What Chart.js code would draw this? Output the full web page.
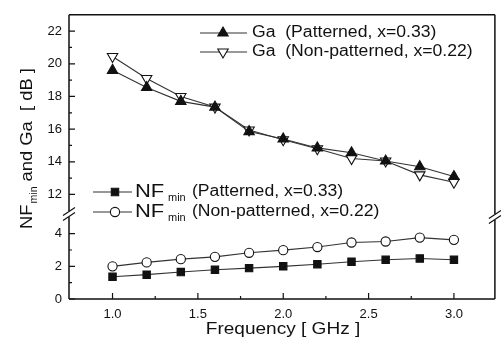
<!DOCTYPE html>
<html><head><meta charset="utf-8">
<script src="https://cdn.jsdelivr.net/npm/chart.js@4/dist/chart.umd.min.js"></script>
<style>html,body{margin:0;padding:0;background:#fff;overflow:hidden}#wrap{width:502px;height:351px;position:relative}</style>
</head><body><div id="wrap"><canvas id="c" width="502" height="351"></canvas></div>
<script>
// ---- data ----
const freqs = [1.0, 1.2, 1.4, 1.6, 1.8, 2.0, 2.2, 2.4, 2.6, 2.8, 3.0];
const gaPatterned    = [19.6, 18.55, 17.7, 17.35, 15.85, 15.4, 14.85, 14.55, 14.05, 13.7, 13.1];
const gaNonPatterned = [20.45, 19.1, 18.0, 17.35, 15.95, 15.35, 14.8, 14.2, 14.05, 13.2, 12.75];
const nfPatterned    = [1.36, 1.49, 1.65, 1.79, 1.89, 2.0, 2.13, 2.28, 2.4, 2.48, 2.4];
const nfNonPatterned = [2.0, 2.24, 2.44, 2.58, 2.83, 2.99, 3.18, 3.46, 3.52, 3.76, 3.62];
const xTicks = [1.0, 1.5, 2.0, 2.5, 3.0];
const xMinorTicks = [1.25, 1.75, 2.25, 2.75];
const yUpperTicks = [12, 14, 16, 18, 20, 22];
const yUpperMinor = [13, 15, 17, 19, 21];
const yLowerTicks = [0, 2, 4];
const yLowerMinor = [1, 3];
const legendGa = ['Ga  (Patterned, x=0.33)', 'Ga  (Non-patterned, x=0.22)'];
const legendNf = ['(Patterned, x=0.33)', '(Non-patterned, x=0.22)'];
const xTitle = 'Frequency [ GHz ]';
const yTitle = ['NF', 'min', ' and Ga  [ dB ]'];

const FONT = '"Liberation Sans", Arial, sans-serif';
const INK = '#111';
const LINE = '#333';

const pts = arr => freqs.map((f, i) => ({x: f, y: arr[i]}));

const styles = {
  gaP:  {pointStyle: 'triangle', radius: 6, rotation: 0,   fill: INK},
  gaN:  {pointStyle: 'triangle', radius: 6, rotation: 180, fill: '#fff'},
  nfP:  {pointStyle: 'rect',     radius: 5.2, rotation: 0, fill: INK},
  nfN:  {pointStyle: 'circle',   radius: 4.6, rotation: 0, fill: '#fff'}
};

function ds(label, arr, axis, st) {
  return {
    label, data: pts(arr), yAxisID: axis,
    borderColor: LINE, borderWidth: 1.1, tension: 0,
    pointStyle: st.pointStyle, pointRadius: st.radius, pointRotation: st.rotation,
    pointBackgroundColor: st.fill, pointBorderColor: INK, pointBorderWidth: 1.1,
    clip: false
  };
}

function hText(ctx, txt, x, y, font, sx) {
  ctx.save();
  ctx.font = font;
  ctx.translate(x, y);
  ctx.scale(sx, 1);
  ctx.fillText(txt, 0, 0);
  const w = ctx.measureText(txt).width * sx;
  ctx.restore();
  return w;
}

function marker(ctx, st, x, y) {
  ctx.save();
  ctx.fillStyle = st.fill;
  ctx.strokeStyle = INK;
  ctx.lineWidth = 1.1;
  Chart.helpers.drawPoint(ctx, {pointStyle: st.pointStyle, radius: st.radius, rotation: st.rotation, borderWidth: 1.1}, x, y);
  ctx.restore();
}

const decor = {
  id: 'decor',
  afterDraw(chart) {
    const ctx = chart.ctx;
    const {left, right, top, bottom} = chart.chartArea;
    const xs = chart.scales.x, yU = chart.scales.yU, yL = chart.scales.yL;
    const yb = yL.top;
    const gap = 3;
    ctx.save();
    ctx.strokeStyle = INK;
    ctx.lineWidth = 1.5;
    ctx.beginPath();
    ctx.moveTo(left, top); ctx.lineTo(right, top);
    ctx.moveTo(left, bottom); ctx.lineTo(right, bottom);
    ctx.moveTo(left, top); ctx.lineTo(left, yb - gap);
    ctx.moveTo(left, yb + gap); ctx.lineTo(left, bottom);
    ctx.moveTo(right, top); ctx.lineTo(right, yb - gap + 3);
    ctx.moveTo(right, yb + gap + 3); ctx.lineTo(right, bottom);
    ctx.stroke();
    // break marks
    ctx.lineWidth = 1.2;
    ctx.beginPath();
    [[left, yb], [right, yb + 3]].forEach(([bx, by]) => {
      [-2.5, 2.5].forEach(d => {
        ctx.moveTo(bx - 6, by + d + 4);
        ctx.lineTo(bx + 6, by + d - 4);
      });
    });
    ctx.stroke();
    // inward ticks
    ctx.lineWidth = 1.2;
    ctx.beginPath();
    xTicks.forEach(v => { const px = xs.getPixelForValue(v); ctx.moveTo(px, bottom); ctx.lineTo(px, bottom - 6); });
    xMinorTicks.forEach(v => { const px = xs.getPixelForValue(v); ctx.moveTo(px, bottom); ctx.lineTo(px, bottom - 3); });
    yUpperTicks.forEach(v => { const py = yU.getPixelForValue(v); ctx.moveTo(left, py); ctx.lineTo(left + 6, py); });
    yUpperMinor.forEach(v => { const py = yU.getPixelForValue(v); ctx.moveTo(left, py); ctx.lineTo(left + 3, py); });
    yLowerTicks.forEach(v => { const py = yL.getPixelForValue(v); ctx.moveTo(left, py); ctx.lineTo(left + 6, py); });
    yLowerMinor.forEach(v => { const py = yL.getPixelForValue(v); ctx.moveTo(left, py); ctx.lineTo(left + 3, py); });
    ctx.stroke();

    // legends
    ctx.fillStyle = INK;
    ctx.textBaseline = 'middle';
    ctx.textAlign = 'left';
    const gaRows = [33, 52];
    [styles.gaP, styles.gaN].forEach((st, i) => {
      const y = gaRows[i];
      ctx.strokeStyle = LINE; ctx.lineWidth = 1.1;
      ctx.beginPath(); ctx.moveTo(200, y); ctx.lineTo(247, y); ctx.stroke();
      marker(ctx, st, 223, y);
      ctx.fillStyle = INK;
      hText(ctx, legendGa[i], 252, y, '16px ' + FONT, 1.1);
    });
    const nfRows = [192, 212];
    [styles.nfP, styles.nfN].forEach((st, i) => {
      const y = nfRows[i];
      ctx.strokeStyle = LINE; ctx.lineWidth = 1.1;
      ctx.beginPath(); ctx.moveTo(93, y); ctx.lineTo(132, y); ctx.stroke();
      marker(ctx, st, 115, y);
      ctx.fillStyle = INK;
      hText(ctx, 'NF', 135, y, '18px ' + FONT, 1.22);
      hText(ctx, 'min', 168, y + 6, '10px ' + FONT, 1.1);
      hText(ctx, legendNf[i], 192, y, '16px ' + FONT, 1.1);
    });

    // x title
    ctx.save();
    ctx.font = '17px ' + FONT;
    const xw = ctx.measureText(xTitle).width * 1.12;
    ctx.restore();
    hText(ctx, xTitle, 283 - xw / 2, 329, '17px ' + FONT, 1.12);

    // y title (rotated)
    ctx.save();
    ctx.translate(27, 149);
    ctx.rotate(-Math.PI / 2);
    ctx.font = '17px ' + FONT;
    const w1 = ctx.measureText(yTitle[0]).width * 1.08;
    const w3 = ctx.measureText(yTitle[2]).width * 1.08;
    ctx.font = '10px ' + FONT;
    const w2 = ctx.measureText(yTitle[1]).width * 1.05;
    let x0 = -(w1 + w2 + w3) / 2;
    hText(ctx, yTitle[0], x0, 0, '17px ' + FONT, 1.08);
    hText(ctx, yTitle[1], x0 + w1 + 1, 7, '10px ' + FONT, 1.05);
    hText(ctx, yTitle[2], x0 + w1 + w2 + 1, 0, '17px ' + FONT, 1.08);
    ctx.restore();
    ctx.restore();
  }
};

const tickFont = {family: FONT, size: 13};

new Chart(document.getElementById('c'), {
  type: 'line',
  data: {
    datasets: [
      ds('Ga (Patterned, x=0.33)', gaPatterned, 'yU', styles.gaP),
      ds('Ga (Non-patterned, x=0.22)', gaNonPatterned, 'yU', styles.gaN),
      ds('NFmin (Patterned, x=0.33)', nfPatterned, 'yL', styles.nfP),
      ds('NFmin (Non-patterned, x=0.22)', nfNonPatterned, 'yL', styles.nfN)
    ]
  },
  options: {
    animation: false, responsive: false, devicePixelRatio: 1,
    plugins: {legend: {display: false}, tooltip: {enabled: false}},
    layout: {padding: {top: 4, right: 6, left: 0, bottom: 0}},
    scales: {
      x: {
        type: 'linear', min: 0.745, max: 3.24,
        grid: {display: false, drawTicks: false}, border: {display: false},
        ticks: {font: tickFont, color: INK, padding: 8, callback: v => Number(v).toFixed(1)},
        afterBuildTicks: s => { s.ticks = xTicks.map(v => ({value: v})); },
        afterFit: s => { s.height = 52; }
      },
      yL: {
        type: 'linear', position: 'left', stack: 'ystack', stackWeight: 5.2,
        min: 0, max: 5.2,
        grid: {display: false, drawTicks: false}, border: {display: false},
        ticks: {font: tickFont, color: INK, padding: 7},
        afterBuildTicks: s => { s.ticks = yLowerTicks.map(v => ({value: v})); },
        afterFit: s => { s.width = 69; }
      },
      yU: {
        type: 'linear', position: 'left', stack: 'ystack', stackWeight: 12.2,
        min: 10.8, max: 23,
        grid: {display: false, drawTicks: false}, border: {display: false},
        ticks: {font: tickFont, color: INK, padding: 7},
        afterBuildTicks: s => { s.ticks = yUpperTicks.map(v => ({value: v})); },
        afterFit: s => { s.width = 69; }
      }
    }
  },
  plugins: [decor]
});
</script>
</body></html>
